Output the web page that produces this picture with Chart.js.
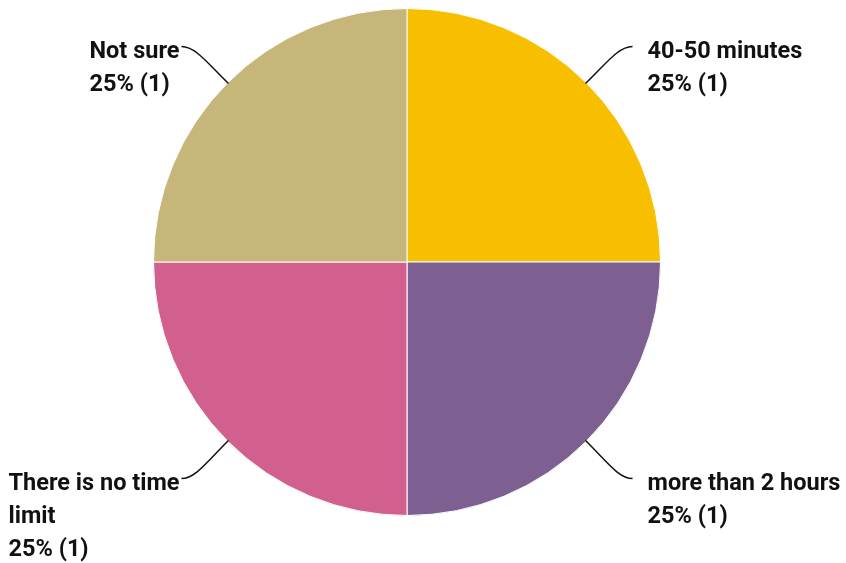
<!DOCTYPE html>
<html>
<head>
<meta charset="utf-8">
<script src="https://cdn.jsdelivr.net/npm/chart.js@4/dist/chart.umd.min.js"></script>
<style>
html,body{margin:0;padding:0;background:#fff;}
#wrap{width:846px;height:563px;position:relative;}
</style>
</head>
<body>
<div id="wrap"><canvas id="c" width="846" height="563"></canvas></div>
<script>
const categories = ["40-50 minutes", "more than 2 hours", "There is no time limit", "Not sure"];
const labelLines = [["40-50 minutes"], ["more than 2 hours"], ["There is no time", "limit"], ["Not sure"]];
const values = [1, 1, 1, 1];
const colors = ["#F8BE00", "#7E5F91", "#D2608E", "#C7B67A"];

const FONT = "bold 23.5px Roboto, 'Liberation Sans', sans-serif";
const LINE_H = 33;

const leaderPlugin = {
  id: 'leaders',
  afterDatasetsDraw(chart) {
    const ctx = chart.ctx;
    const meta = chart.getDatasetMeta(0);
    const total = values.reduce((a, b) => a + b, 0);
    meta.data.forEach((arc, i) => {
      const p = arc.getProps(['x', 'y', 'startAngle', 'endAngle', 'outerRadius'], true);
      const mid = (p.startAngle + p.endAngle) / 2;
      const cos = Math.cos(mid), sin = Math.sin(mid);
      const sx = p.x + cos * (p.outerRadius - 1);
      const sy = p.y + sin * (p.outerRadius - 1);
      const right = cos >= 0;
      const down = sin >= 0;
      const ex = sx + (right ? 47 : -47);
      const ey = sy + (down ? 38 : -37);
      ctx.save();
      ctx.strokeStyle = '#111';
      ctx.lineWidth = 1.5;
      ctx.beginPath();
      ctx.moveTo(sx, sy);
      ctx.bezierCurveTo(sx + (ex - sx) * 0.45, sy + (ey - sy) * 0.55,
                        ex - (right ? 14 : -14), ey, ex, ey);
      ctx.stroke();

      const pct = Math.round(values[i] / total * 100);
      const lines = labelLines[i].concat([pct + "% (" + values[i] + ")"]);
      ctx.font = FONT;
      ctx.fillStyle = '#111';
      ctx.textBaseline = 'middle';
      ctx.textAlign = 'left';
      let bx;
      if (right) {
        bx = ex + 15;
      } else {
        const w = Math.max(...lines.map(l => ctx.measureText(l).width));
        bx = ex - 2 - w;
      }
      lines.forEach((l, k) => {
        ctx.fillText(l, bx, ey + 6 + k * LINE_H);
      });
      ctx.restore();
    });
  }
};

new Chart(document.getElementById('c'), {
  type: 'pie',
  data: {
    labels: categories,
    datasets: [{
      data: values,
      backgroundColor: colors,
      borderColor: '#ffffff',
      borderWidth: 1
    }]
  },
  options: {
    responsive: false,
    animation: false,
    layout: { padding: { top: 8, bottom: 47, left: 0, right: 32 } },
    plugins: { legend: { display: false }, tooltip: { enabled: false } }
  },
  plugins: [leaderPlugin]
});
</script>
</body>
</html>
